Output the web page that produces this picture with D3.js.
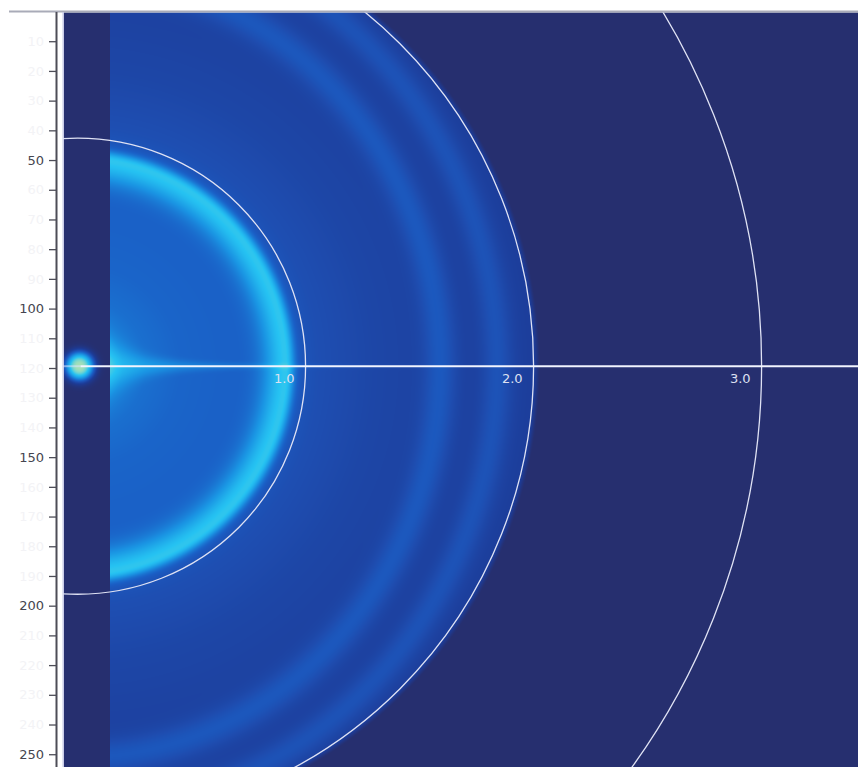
<!DOCTYPE html>
<html><head><meta charset="utf-8">
<script src="https://cdn.jsdelivr.net/npm/d3@7"></script>
<style>html,body{margin:0;padding:0;background:#fff;overflow:hidden}</style>
</head><body>
<svg id="chart" width="858" height="767"></svg>
<script>
// ---------- data ----------
const rowTicks = d3.range(10, 251, 10);          // detector row ticks
const rowLabels = [50, 100, 150, 200, 250];      // labelled ticks
const qCircles = [1.0, 2.0, 3.0];                // reference circles
const qCircleLabels = ["1.0", "2.0", "3.0"];
const detectorRows = 254.3;
const detectorCols = 267.6;
const beamRow = 119.4;
const beamCol = 4.9;
const rowsPerQ = 76.75;          // calibration: detector rows per q unit
const beamstopCol = 15.8;        // right edge of the beam-stop shadow
const maskQ = [2.0, 2.03];       // detector signal ends here
const ringQ = [0.915, 1.59, 1.84];
const ringAspect = [1.0, 1.08, 1.06];
const ringInnerWidth = [0.07, 0.05, 0.046];
const ringOuterWidth = [0.026, 0.05, 0.046];
const ringAmp = [0.44, 0.13, 0.11];
const diffuseQ = [0.12, 0.2, 0.3, 0.45, 0.6, 0.75, 0.9, 1.05, 1.3, 1.5, 1.7, 1.9, 2.0];
const diffuseI = [0.64, 0.52, 0.46, 0.42, 0.41, 0.40, 0.38, 0.31, 0.26, 0.24, 0.225, 0.22, 0.21];
const beamSpotI = 1.0;
const beamSpotQ = 0.066;
const streakI = 0.26;
const colorStops = [0, 0.2, 0.3, 0.4, 0.6, 0.8, 1.0];
const colorRamp = ['#262f6f', '#1c3c99', '#1e4db0', '#1a5fc6', '#1a94e3', '#26c3f2', '#a6e0b8'];

// ---------- scales ----------
const W = 858, H = 767;
const svg = d3.select('#chart');
const yScale = d3.scaleLinear().domain([0, detectorRows]).range([11.5, 767]);
const xScale = d3.scaleLinear().domain([0, detectorCols]).range([63, 858]);
const cx = xScale(beamCol), cy = yScale(beamRow);
const pxPerQ = yScale(beamRow + rowsPerQ) - cy;
const rScale = d3.scaleLinear().domain([0, 1]).range([0, pxPerQ]);
const diffuse = d3.scaleLinear().domain(diffuseQ).range(diffuseI).clamp(true);
const color = d3.scaleLinear().domain(colorStops).range(colorRamp).interpolate(d3.interpolateRgb).clamp(true);

// ---------- detector image ----------
const imgX0 = 64, imgY0 = 12.5;
const iw = W - imgX0, ih = Math.ceil(H - imgY0);
const canvas = document.createElement('canvas');
canvas.width = iw; canvas.height = ih;
const ctx = canvas.getContext('2d');
const img = ctx.createImageData(iw, ih);
const lut = [];
for (let k = 0; k <= 1000; k++) { const c = d3.rgb(color(k / 1000)); lut.push([c.r, c.g, c.b]); }
const stopX = xScale(beamstopCol);
function smooth(a, b, v) { const t = Math.min(1, Math.max(0, (v - a) / (b - a))); return t * t * (3 - 2 * t); }
for (let j = 0; j < ih; j++) {
  const py = imgY0 + j + 0.5;
  for (let i = 0; i < iw; i++) {
    const px = imgX0 + i + 0.5;
    const dx = rScale.invert(px - cx), dy = rScale.invert(py - cy);
    const q = Math.sqrt(dx * dx + dy * dy);
    let I;
    if (px < stopX) {
      const sx = rScale.invert(px - cx - 2);
      const qs = Math.sqrt(sx * sx + dy * dy);
      I = beamSpotI * Math.exp(-Math.pow(qs / beamSpotQ, 3));
    } else {
      I = diffuse(q);
      for (let k = 0; k < ringQ.length; k++) {
        const qe = Math.sqrt(dx * dx + (dy / ringAspect[k]) * (dy / ringAspect[k]));
        const d = qe - ringQ[k];
        const w = d < 0 ? ringInnerWidth[k] : ringOuterWidth[k];
        I += ringAmp[k] * Math.exp(-(d * d) / (2 * w * w));
      }
      const t = px - stopX;
      const sw = 3 + 22 * Math.exp(-t / 35);
      const sdy = py - cy;
      I += streakI * Math.exp(-t / 100) * Math.exp(-(sdy / sw) * (sdy / sw));
      I *= 1 - smooth(maskQ[0], maskQ[1], q);
    }
    const c = lut[Math.max(0, Math.min(1000, Math.round(I * 1000)))];
    const o = (j * iw + i) * 4;
    img.data[o] = c[0]; img.data[o + 1] = c[1]; img.data[o + 2] = c[2]; img.data[o + 3] = 255;
  }
}
ctx.putImageData(img, 0, 0);

svg.append('rect').attr('width', W).attr('height', H).attr('fill', '#fff');
svg.append('image').attr('x', imgX0).attr('y', imgY0).attr('width', iw).attr('height', ih)
  .attr('href', canvas.toDataURL());

// frame lines
svg.append('line').attr('x1', 9).attr('x2', W).attr('y1', 11.5).attr('y2', 11.5)
  .attr('stroke', '#a9abb8').attr('stroke-width', 2);
svg.append('line').attr('x1', 63.2).attr('x2', 63.2).attr('y1', 12).attr('y2', H)
  .attr('stroke', '#c4c8e6').attr('stroke-width', 1.4);

// overlay: circles, line, labels
svg.append('clipPath').attr('id', 'clipImg').append('rect')
  .attr('x', 63).attr('y', 12.5).attr('width', W - 63).attr('height', H);
const ov = svg.append('g').attr('clip-path', 'url(#clipImg)');
ov.selectAll('circle.ref').data(qCircles).join('circle').attr('class', 'ref')
  .attr('cx', cx).attr('cy', cy).attr('r', d => rScale(d))
  .attr('fill', 'none').attr('stroke', '#dfe2f4').attr('stroke-width', 1.3);
ov.append('line').attr('x1', 63).attr('x2', cx + 3).attr('y1', cy).attr('y2', cy)
  .attr('stroke', '#dfe6ff').attr('stroke-opacity', 0.55).attr('stroke-width', 2);
ov.append('line').attr('x1', cx + 3).attr('x2', W).attr('y1', cy).attr('y2', cy)
  .attr('stroke', '#f2f5ff').attr('stroke-width', 2);
ov.selectAll('text.ql').data(qCircles).join('text').attr('class', 'ql')
  .attr('x', d => cx + rScale(d) - 11).attr('y', cy + 16.5)
  .attr('text-anchor', 'end').attr('fill', '#dde0f2')
  .style('font-family', 'DejaVu Sans').style('font-size', '13px')
  .text((d, i) => qCircleLabels[i]);

// y axis
const axis = d3.axisLeft(yScale).tickValues(rowTicks).tickSize(7).tickSizeOuter(0).tickPadding(5)
  .tickFormat(d => d);
const ag = svg.append('g').attr('transform', 'translate(56,0)').call(axis);
ag.select('.domain').attr('stroke', '#4d4d57').attr('stroke-width', 2);
ag.selectAll('.tick line').attr('stroke', '#4d4d57').attr('stroke-width', 1.3);
ag.selectAll('.tick text')
  .style('font-family', 'DejaVu Sans').style('font-size', '13px')
  .attr('fill', d => rowLabels.includes(d) ? '#45454f' : '#f3f3f6');
</script>
</body></html>
